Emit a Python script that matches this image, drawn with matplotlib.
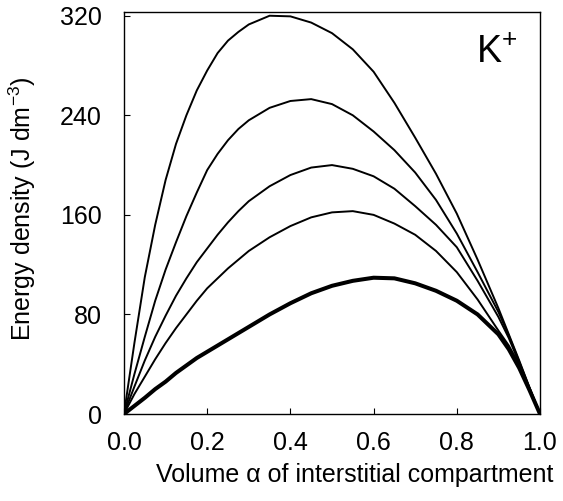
import matplotlib
matplotlib.use("Agg")
import matplotlib.pyplot as plt

plt.rcParams["font.family"] = ["Liberation Sans", "DejaVu Sans"]
plt.rcParams["mathtext.fontset"] = "custom"
plt.rcParams["mathtext.rm"] = "Liberation Sans"
plt.rcParams["mathtext.it"] = "Liberation Sans:italic"
plt.rcParams["mathtext.default"] = "regular"

# volume fraction alpha of the interstitial compartment
alpha = [0.0, 0.01, 0.025, 0.05, 0.075, 0.1, 0.125, 0.15, 0.175, 0.2, 0.225,
         0.25, 0.275, 0.3, 0.35, 0.4, 0.45, 0.5, 0.55, 0.6, 0.65, 0.7, 0.75,
         0.8, 0.85, 0.9, 0.925, 0.95, 0.975, 1.0]

# energy density curves (J dm-3), top to bottom
curve_1 = [0, 23, 57, 110, 152, 188, 217, 240, 260, 276, 290,
           300, 307, 313, 320, 319.5, 314.5, 306, 293, 275, 250, 222, 193,
           161, 124, 85, 64, 43, 21, 0]
curve_2 = [0, 13, 32, 62, 91, 116, 138, 159, 178, 196, 209,
           220, 229, 236, 246, 251.5, 253, 249, 240, 227, 212, 194, 172,
           145, 114, 82, 63, 42, 21, 0]
curve_3 = [0, 9, 22, 43, 62, 79, 95, 109, 122, 133, 144,
           154, 163, 171, 183, 192, 198, 200, 197, 191, 181, 167, 152,
           134, 107, 78, 61, 41, 20, 0]
curve_4 = [0, 6.5, 16, 30, 44, 57, 69, 80, 91, 101, 109,
           117, 124, 131, 142, 151, 158, 162, 163, 160, 153, 144, 131,
           114, 92, 67, 55, 40, 20, 0]
curve_bold = [0, 2.6, 6.5, 13, 20, 26, 33, 39, 45, 50, 55,
              60, 65, 70, 80, 89, 97, 103, 107, 109.5, 109, 105, 99,
              91, 80, 64, 52, 37, 19, 0]

x_ticks = [0.0, 0.2, 0.4, 0.6, 0.8, 1.0]
y_ticks = [0, 80, 160, 240, 320]

fig = plt.figure(figsize=(5.63, 5.01), dpi=100)
ax = fig.add_axes([124 / 563, 1 - 414 / 501, 416 / 563, 402 / 501])

for c in [curve_1, curve_2, curve_3, curve_4]:
    ax.plot(alpha, c, color="black", lw=1.4)
ax.plot(alpha, curve_bold, color="black", lw=2.9)

ax.set_xlim(0, 1)
ax.set_ylim(0, 323)
ax.set_xticks(x_ticks)
ax.set_xticklabels(["%.1f" % v for v in x_ticks])
ax.set_yticks(y_ticks)

for s in ax.spines.values():
    s.set_linewidth(1.0)
ax.tick_params(axis="x", direction="in", length=4.3, width=0.8, labelsize=18, pad=12)
ax.tick_params(axis="y", direction="in", length=4.3, width=0.8, labelsize=18, pad=16)

ax.set_xlabel("Volume α of interstitial compartment", fontsize=18)
ax.xaxis.set_label_coords(0.555, -0.122)
ax.set_ylabel("Energy density (J dm$^{-3}$)", fontsize=18)
ax.yaxis.set_label_coords(-0.207, 0.51)

ax.text(0.845, 282, "K$^{+}$", fontsize=27, ha="left", va="baseline")

fig.savefig("out.png", dpi=100)
